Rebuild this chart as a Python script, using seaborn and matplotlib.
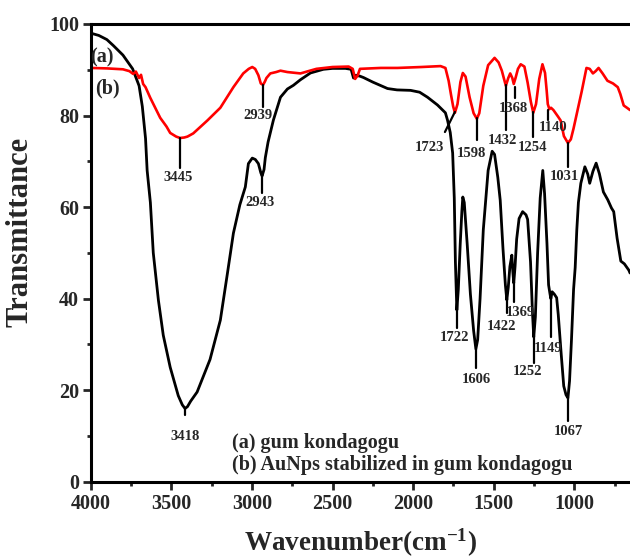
import matplotlib
matplotlib.use("Agg")
import matplotlib.pyplot as plt
import seaborn as sns
import pandas as pd

# (a) gum kondagogu
wn_a = [4000, 3950, 3900, 3860, 3800, 3740, 3700, 3680, 3660, 3650, 3630, 3612,
        3580, 3550, 3507, 3457, 3432, 3415, 3400, 3380, 3340, 3260, 3196, 3153,
        3115, 3075, 3041, 3022, 2998, 2979, 2960, 2945, 2937, 2925, 2917, 2900,
        2867, 2823, 2780, 2743, 2700, 2637, 2557, 2500, 2420, 2385, 2370, 2355,
        2330, 2308, 2250, 2159, 2100, 2016, 1960, 1911, 1849, 1800, 1787, 1770,
        1755, 1745, 1738, 1729, 1720, 1708, 1698, 1692, 1683, 1665, 1645, 1625,
        1611, 1600, 1585, 1565, 1535, 1510, 1495, 1475, 1460, 1443, 1428, 1419,
        1410, 1400, 1388, 1382, 1376, 1368, 1358, 1343, 1321, 1300, 1290, 1272,
        1260, 1252, 1242, 1228, 1212, 1196, 1185, 1170, 1160, 1152, 1146, 1138,
        1125, 1110, 1100, 1082, 1066, 1052, 1040, 1030, 1018, 1005, 995, 985,
        975, 960, 935, 917, 905, 885, 865, 845, 820, 793, 770, 756, 735, 712,
        690, 662, 655]
t_a = [98, 97.5, 96.6, 95.3, 93.2, 90.2, 86.5, 82, 75, 68, 61, 50,
       39.6, 32, 25, 18.8, 16.8, 16, 16.4, 17.6, 19.6, 26.7, 35.3, 45.3,
       54.3, 60.5, 64.4, 69.5, 70.7, 70.4, 69.5, 67.5, 66.8, 68.2, 70.8, 74.2,
       79, 84, 85.8, 86.6, 87.8, 89.3, 90.1, 90.3, 90.3, 90.1, 88.2, 88.8,
       88.6, 88.3, 87.3, 85.9, 85.6, 85.5, 85.1, 84, 82.3, 80.6, 79, 76.3,
       71.8, 62, 48, 37.5, 42, 52, 59, 62.2, 61, 52, 41, 33,
       29, 31, 40, 55, 68, 72.2, 71.5, 66.5, 61.5, 51, 43, 39.7,
       42.5, 47, 49.5, 46, 43.4, 47, 53, 57.5, 59, 58.3, 57.3, 48,
       37, 31.6, 36, 50, 62, 68, 63, 52, 43, 41.2, 40, 41.5,
       41, 40.2, 36.5, 28, 20.9, 19, 18.3, 22, 31, 42, 46.8, 55,
       61, 65.2, 68.8, 67.2, 65.2, 67.8, 69.6, 67.3, 63.3, 61.6, 59.8, 59, 53.2, 48.2,
       47.6, 46.2, 45.6]

# (b) AuNps stabilized in gum kondagogu
wn_b = [4000, 3900, 3800, 3760, 3737, 3720, 3700, 3688, 3675, 3660, 3631, 3600,
        3569, 3530, 3507, 3470, 3446, 3420, 3400, 3364, 3277, 3196, 3115, 3054,
        3020, 2998, 2980, 2960, 2945, 2931, 2920, 2910, 2886, 2850, 2823, 2780,
        2699, 2650, 2600, 2500, 2400, 2375, 2360, 2345, 2330, 2200, 2097, 1950,
        1830, 1800, 1780, 1765, 1752, 1741, 1725, 1707, 1692, 1675, 1650, 1625,
        1605, 1590, 1565, 1535, 1495, 1470, 1450, 1425, 1410, 1398, 1385, 1376,
        1365, 1350, 1333, 1310, 1290, 1270, 1255, 1238, 1218, 1198, 1182, 1172,
        1165, 1155, 1145, 1130, 1100, 1085, 1065, 1040, 1022, 1005, 985, 955,
        925, 905, 885, 868, 850, 825, 795, 760, 731, 715, 694, 670, 655]
t_b = [90.4, 90.3, 90.1, 89.7, 89.1, 89.6, 88.2, 88.9, 86.9, 86.2, 83.9, 81.7,
       79.5, 77.6, 76.2, 75.4, 75.1, 75.2, 75.4, 76.1, 78.9, 81.7, 86.2, 89.2,
       90.2, 90.6, 90.2, 88.8, 87, 86.7, 87.4, 88.2, 89.2, 89.5, 89.8, 89.5,
       89.2, 89.7, 90.2, 90.6, 90.7, 90.2, 88, 88.7, 90.2, 90.4, 90.4, 90.6,
       90.8, 90.4, 87.6, 84.5, 82, 80.6, 82.5, 87.3, 89.3, 88.5, 84, 80.5,
       79.3, 80.5, 86.5, 91, 92.6, 91.6, 89.8, 86.5, 88.2, 89.2, 88.2, 86.9,
       88.2, 90.2, 91.2, 90.7, 87.2, 83, 80.6, 82.5, 88, 91.2, 89.3, 85.5,
       82.5, 81.4, 81.7, 81.2, 79.7, 78.9, 75.5, 74, 74.8, 77.2, 80.4, 85.2,
       90.4, 90.2, 89.2, 89.7, 90.4, 89.2, 87.6, 87, 86.2, 84.7, 82.2, 81.6, 81.2]

# peak labels: wavenumber, line top, line bottom, label x, label y, text
ann_b_x = [3446, 2931, 1605, 1425, 1369, 1258, 1165, 1040]
ann_b_y0 = [75.1, 86.7, 79.5, 86.7, 86.2, 80.8, 81.2, 74.0]
ann_b_y1 = [68.5, 81.9, 74.6, 76.8, 83.8, 75.3, 79.0, 68.8]
ann_b_tx = [3459, 2962, 1636, 1444, 1381, 1258, 1134, 1059]
ann_b_ty = [66.4, 80.1, 71.8, 74.6, 81.6, 73.1, 77.3, 66.6]
ann_b_lab = ["3445", "2939", "1598", "1432", "1368", "1254", "1140", "1031"]

ann_a_x = [3415, 2937, 1729, 1611, 1419, 1376, 1252, 1146, 1040]
ann_a_y0 = [16.0, 67.0, 37.5, 29.0, 39.7, 43.4, 31.6, 41.2, 18.3]
ann_a_y1 = [14.6, 63.0, 33.6, 24.8, 36.9, 39.2, 25.9, 31.6, 13.2]
ann_a_tx = [3415, 2949, 1741, 1611, 1450, 1338, 1290, 1165, 1040]
ann_a_ty = [9.8, 60.9, 31.4, 22.4, 34.0, 36.9, 24.0, 29.0, 11.0]
ann_a_lab = ["3418", "2943", "1722", "1606", "1422", "1369", "1252", "1149", "1067"]

df_a = pd.DataFrame({"wavenumber": wn_a, "T": t_a})
df_b = pd.DataFrame({"wavenumber": wn_b, "T": t_b})

sns.set_theme(style="ticks")
plt.rcParams["font.family"] = ["Liberation Serif", "DejaVu Serif"]
plt.rcParams["font.weight"] = "bold"
plt.rcParams["mathtext.fontset"] = "custom"
plt.rcParams["mathtext.rm"] = "Liberation Serif:bold"
plt.rcParams["mathtext.it"] = "Liberation Serif:bold"
plt.rcParams["mathtext.bf"] = "Liberation Serif:bold"

fig = plt.figure(figsize=(6.3, 5.58), dpi=100)
ax = fig.add_axes([0.144, 0.1367, 0.856, 0.8203])

sns.lineplot(data=df_a, x="wavenumber", y="T", color="black", linewidth=2.0,
             estimator=None, ax=ax)
sns.lineplot(data=df_b, x="wavenumber", y="T", color="#ff0000", linewidth=1.9,
             estimator=None, ax=ax)

# annotation ticks and numbers
for x, y0, y1, tx, ty, lab in zip(ann_b_x, ann_b_y0, ann_b_y1, ann_b_tx, ann_b_ty, ann_b_lab):
    ax.plot([x, x], [y0, y1], color="black", lw=1.6)
    ax.text(tx, ty, lab, ha="center", va="center", fontsize=10.5, fontweight="bold")
# the 1723 marker is slanted
ax.plot([1741, 1803], [80.8, 76.4], color="black", lw=1.6)
ax.text(1896, 73.1, "1723", ha="center", va="center", fontsize=10.5, fontweight="bold")

for x, y0, y1, tx, ty, lab in zip(ann_a_x, ann_a_y0, ann_a_y1, ann_a_tx, ann_a_ty, ann_a_lab):
    ax.plot([x, x], [y0, y1], color="black", lw=1.6)
    ax.text(tx, ty, lab, ha="center", va="center", fontsize=10.5, fontweight="bold")

ax.text(3930, 92.6, "(a)", ha="center", va="center", fontsize=14.5, fontweight="bold")
ax.text(3899, 86.0, "(b)", ha="center", va="center", fontsize=14.5, fontweight="bold")
ax.text(3124, 8.5, "(a) gum kondagogu", ha="left", va="center", fontsize=14.5, fontweight="bold")
ax.text(3124, 3.6, "(b) AuNps stabilized in gum kondagogu", ha="left", va="center",
        fontsize=14.5, fontweight="bold")

ax.set_xlim(4000, 655)
ax.set_ylim(0, 100)
ax.set_xticks([4000, 3500, 3000, 2500, 2000, 1500, 1000])
ax.set_xticks([3750, 3250, 2750, 2250, 1750, 1250, 750], minor=True)
ax.set_yticks([0, 20, 40, 60, 80, 100])
ax.set_yticks([10, 30, 50, 70, 90], minor=True)
ax.tick_params(which="major", direction="out", length=5.5, width=2, labelsize=14.5, pad=3)
ax.tick_params(which="minor", direction="out", length=3, width=2)
for lab in ax.get_xticklabels() + ax.get_yticklabels():
    lab.set_fontweight("bold")

for s in ["left", "bottom", "top"]:
    ax.spines[s].set_linewidth(2.2)
    ax.spines[s].set_color("black")
ax.spines["right"].set_visible(False)

ax.set_xlabel("Wavenumber(cm$^{-1}$)", fontsize=19.5, fontweight="bold")
ax.set_ylabel("Transmittance", fontsize=22, fontweight="bold")
ax.xaxis.set_label_coords(0.5, -0.098)
ax.yaxis.set_label_coords(-0.105, 0.545)

fig.savefig("out.png", dpi=100)
